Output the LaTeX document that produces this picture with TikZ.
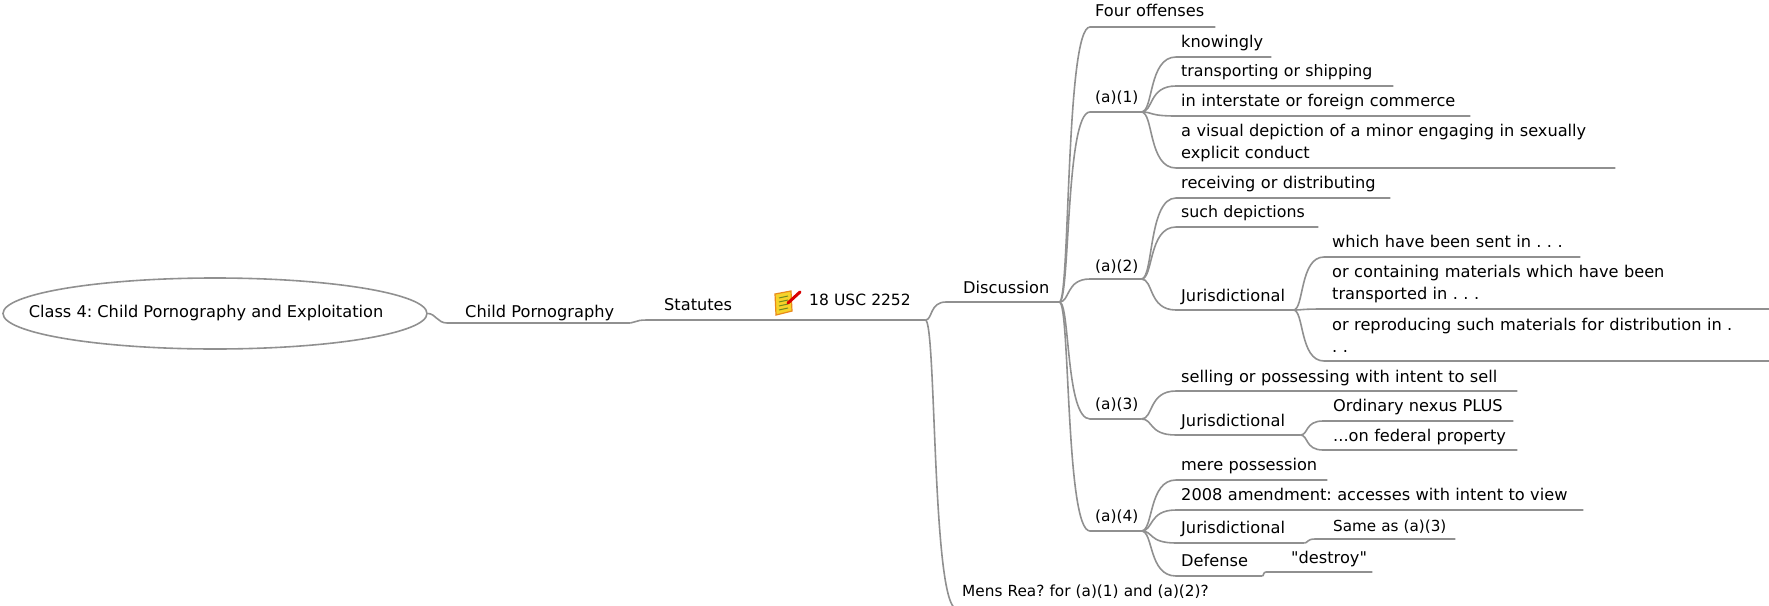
\documentclass[tikz,border=0pt]{standalone}
\usepackage{fontspec}
\setmainfont{DejaVu Sans}[Ligatures=TeXOff]
\usetikzlibrary{calc,shapes.geometric}
\definecolor{linegray}{HTML}{909090}
\definecolor{notefill}{HTML}{F6D32A}
\definecolor{noteedge}{HTML}{E98A1C}
\definecolor{noteline}{HTML}{6F8A1E}
\begin{document}
\frenchspacing
\begin{tikzpicture}[x=1pt,y=-1pt,
    % left pad of the text, length of the underline, baseline to underline
    topic/.style n args={3}{anchor=south west, inner xsep=0pt, inner ysep=#3pt,
        text width=#2pt, text depth=0pt, font=\fontsize{16.2}{22}\selectfont,
        execute at begin node={\leftskip=#1pt\relax\rightskip=0pt plus 1fil\relax}},
    twolines/.style={text depth=22pt},
    branch/.style={draw=linegray, line width=1.6pt}]
    \useasboundingbox (0,0) rectangle (1769,605);

    % Central topic
    \node[draw=linegray, line width=1.6pt, ellipse, minimum width=424pt, minimum height=71pt,
        label={[xshift=-9pt, font=\fontsize{16.2}{22}\selectfont]center:Class 4: Child Pornography and Exploitation}]
        (root) at (215,313.5) {};

    % Main line
    \node[topic={18}{183}{5}] (porn) at (447,323) {Child Pornography};
    \node[topic={17}{113}{9}] (statutes) at (647,320) {Statutes};
    \node[topic={49}{165}{14}, font=\fontsize{15.5}{22}\selectfont] (usc) at (760,320) {18 USC 2252};
    \node[topic={17}{113}{8}] (discussion) at (946,302) {Discussion};
    \node[topic={5}{263}{12}, font=\fontsize{15.3}{22}\selectfont] (mensrea) at (957,609) {Mens Rea? for (a)(1) and (a)(2)?};

    % Under Discussion
    \node[topic={5}{125}{10}] (four) at (1090,27) {Four offenses};
    \node[topic={5}{51}{9}, font=\fontsize{15.4}{22}\selectfont] (aone) at (1090,112) {(a)(1)};
    \node[topic={5}{51}{7}, font=\fontsize{15.4}{22}\selectfont] (atwo) at (1090,279) {(a)(2)};
    \node[topic={5}{51}{9}, font=\fontsize{15.4}{22}\selectfont] (athree) at (1090,419) {(a)(3)};
    \node[topic={5}{51}{9}, font=\fontsize{15.4}{22}\selectfont] (afour) at (1090,531) {(a)(4)};

    % Under (a)(1)
    \node[topic={5}{95}{9}] (knowingly) at (1176,57) {knowingly};
    \node[topic={5}{217}{9}, font=\fontsize{15.8}{22}\selectfont] (shipping) at (1176,86) {transporting or shipping};
    \node[topic={5}{294}{9}] (commerce) at (1176,116) {in interstate or foreign commerce};
    \node[topic={5}{439}{9}, twolines] (depiction) at (1176,168) {a visual depiction of a minor engaging in sexually\\explicit conduct};

    % Under (a)(2)
    \node[topic={5}{214}{9}] (receiving) at (1176,198) {receiving or distributing};
    \node[topic={5}{142}{9}, font=\fontsize{15.8}{22}\selectfont] (such) at (1176,227) {such depictions};
    \node[topic={5}{117}{8}] (jtwo) at (1176,310) {Jurisdictional};
    \node[topic={8}{256}{9}] (sent) at (1324,257) {which have been sent in . . .};
    \node[topic={8}{445}{9}, twolines] (containing) at (1324,309) {or containing materials which have been\\transported in . . .};
    \node[topic={8}{445}{8}, twolines] (reproducing) at (1324,361) {or reproducing such materials for distribution in .\\. .};

    % Under (a)(3)
    \node[topic={5}{341}{8}] (selling) at (1176,391) {selling or possessing with intent to sell};
    \node[topic={5}{124}{8}] (jthree) at (1176,435) {Jurisdictional};
    \node[topic={10}{190}{9}] (nexus) at (1323,421) {Ordinary nexus PLUS};
    \node[topic={10}{194}{8}] (federal) at (1323,450) {...on federal property};

    % Under (a)(4)
    \node[topic={5}{151}{9}] (mere) at (1176,480) {mere possession};
    \node[topic={5}{407}{9}] (amendment) at (1176,510) {2008 amendment: accesses with intent to view};
    \node[topic={5}{128}{9}] (jfour) at (1176,543) {Jurisdictional};
    \node[topic={18}{140}{7}, font=\fontsize{15.2}{22}\selectfont] (same) at (1315,539) {Same as (a)(3)};
    \node[topic={5}{86}{9}] (defense) at (1176,576) {Defense};
    \node[topic={25}{106}{8}] (destroy) at (1266,572) {"destroy"};

    % Connectors
    \draw[branch] (root.east) .. controls ($(root.east)!.4!(porn.south west |- root.east)$) and ($(root.east |- porn.south west)!.5!(porn.south west)$) .. (porn.south west) -- (porn.south east);
    \foreach \parent/\child in {porn/statutes, statutes/usc, usc/discussion, usc/mensrea,
        discussion/four, discussion/aone, discussion/atwo, discussion/athree, discussion/afour,
        aone/knowingly, aone/shipping, aone/commerce, aone/depiction,
        atwo/receiving, atwo/such, atwo/jtwo, jtwo/sent, jtwo/containing, jtwo/reproducing,
        athree/selling, athree/jthree, jthree/nexus, jthree/federal,
        afour/mere, afour/amendment, afour/jfour, afour/defense, jfour/same, defense/destroy}
        \draw[branch] (\parent.south east)
            .. controls ($(\parent.south east)!.35!(\child.south west |- \parent.south east)$)
            and ($(\parent.south east |- \child.south west)!.2!(\child.south west)$)
            .. (\child.south west) -- (\child.south east);

    % Note icon
    \fill[notefill, draw=noteedge, line width=1.2pt] (775,294) -- (791,291) -- (792,311) -- (776,315) -- cycle;
    \foreach \y in {296,300,304,308}
        \draw[noteline, line width=1pt] (779,\y+2) -- (788,\y);
    \draw[red!85!black, line width=3pt, line cap=round] (788,303) -- (800,292);
\end{tikzpicture}
\end{document}
